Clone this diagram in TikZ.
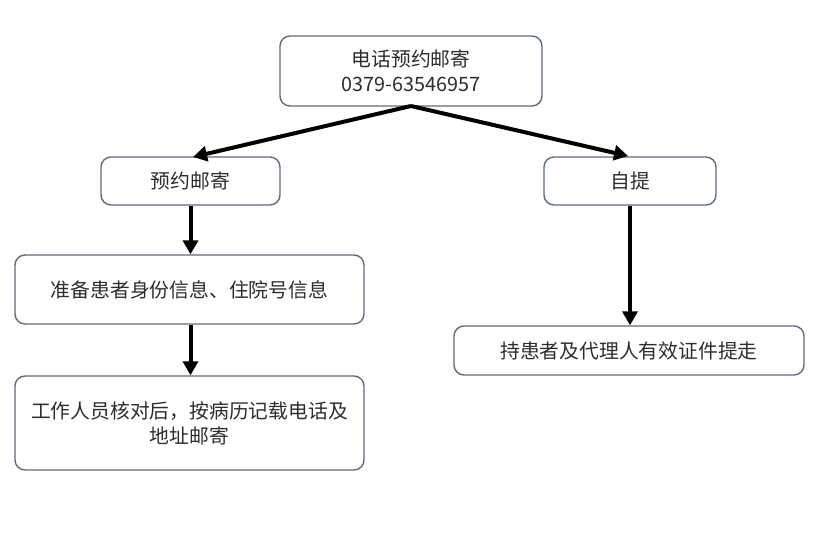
\documentclass[tikz,border=0pt]{standalone}
\usepackage{fontspec}
\newfontfamily\cjk{Noto Sans CJK SC}
\usetikzlibrary{arrows.meta}
\definecolor{boxline}{RGB}{92,108,126}
\definecolor{txt}{RGB}{45,45,45}
\tikzset{
  box/.style={draw=boxline, line width=1.4pt, rounded corners=10pt, fill=white,
    inner sep=0pt, align=center, text=txt, font=\cjk\fontsize{19.8}{25}\selectfont},
  arr/.style={line width=4pt, draw=black, -{Triangle[length=14pt,width=15pt]}},
}
\begin{document}
\begin{tikzpicture}[x=1pt,y=-1pt]
\useasboundingbox (0,0) rectangle (822,536);
\fill[white] (0,0) rectangle (822,536);
\node[box, minimum width=262pt, minimum height=70pt] (top) at (411,71) {电话预约邮寄\\0379-63546957};
\node[box, minimum width=179pt, minimum height=48pt] (mail) at (190.5,181) {预约邮寄};
\node[box, minimum width=172pt, minimum height=48pt] (self) at (630,181) {自提};
\node[box, minimum width=349pt, minimum height=69pt] (prep) at (189.5,289.5) {准备患者身份信息、住院号信息};
\node[box, minimum width=350pt, minimum height=49pt] (take) at (629,350.5) {持患者及代理人有效证件提走};
\node[box, minimum width=349pt, minimum height=94pt] (work) at (189.5,423) {工作人员核对后，按病历记载电话及\\地址邮寄};
\coordinate (tb) at (411,106);
\draw[arr] (tb) -- (193,157);
\draw[arr] (tb) -- (628,156);
\draw[arr] (mail.south -| 190.5,0) -- (prep.north -| 190.5,0);
\draw[arr] (prep.south -| 190.5,0) -- (work.north -| 190.5,0);
\draw[arr] (self.south -| 630,0) -- (take.north -| 630,0);
\end{tikzpicture}
\end{document}
